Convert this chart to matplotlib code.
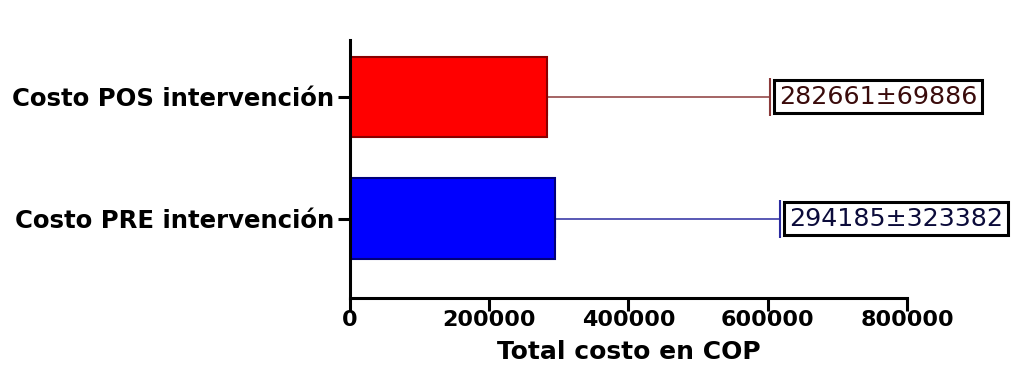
import matplotlib
matplotlib.use("Agg")
import matplotlib.pyplot as plt

plt.rcParams['font.family'] = ['DejaVu Sans']

categorias = ['Costo PRE intervención', 'Costo POS intervención']
medias = [294185, 282661]
# extension of the drawn error whiskers
errores = [323382, 320500]
etiquetas = ['294185±323382', '282661±69886']
colores = ['#0000ff', '#ff0000']
bordes = ['#00007a', '#8a0000']
linea_err = ['#2b2ba0', '#8b3a3a']
cap_err = ['#5a5ad0', '#d84040']
color_txt = ['#0b0b3a', '#3a0b0b']

fig = plt.figure(figsize=(10.14, 3.79), dpi=100)
ax = fig.add_axes([0.345, 0.214, 0.5495, 0.680])

pos = list(range(len(categorias)))
ax.barh(pos, medias, height=0.66, color=colores, edgecolor=bordes, linewidth=1.5, zorder=2)

for i in pos:
    eb = ax.errorbar(medias[i], i, xerr=[[0], [errores[i]]], fmt='none',
                     ecolor=linea_err[i], elinewidth=1.1, capsize=14, capthick=1.5, zorder=1)
    for c in eb[1]:
        c.set_color(cap_err[i])
    ax.annotate(etiquetas[i], xy=(medias[i] + errores[i], i), xytext=(6.5, 0),
                textcoords='offset points', ha='left', va='center', fontsize=18.2,
                color=color_txt[i], annotation_clip=False,
                bbox=dict(boxstyle='square,pad=0.18', fc='white', ec='black', lw=2.2))

ax.set_xlim(0, 800000)
ax.set_ylim(-0.65, 1.465)
ax.set_xticks([0, 200000, 400000, 600000, 800000])
ax.set_xticklabels(['0', '200000', '400000', '600000', '800000'], fontsize=16, fontweight='bold')
ax.set_yticks(pos)
ax.set_yticklabels(categorias, fontsize=17.6, fontweight='bold')
ax.set_xlabel('Total costo en COP', fontsize=18, fontweight='bold', labelpad=7)

for s in ['top', 'right']:
    ax.spines[s].set_visible(False)
for s in ['left', 'bottom']:
    ax.spines[s].set_linewidth(2.2)
ax.tick_params(axis='y', width=2.2, length=9, pad=2)
ax.tick_params(axis='x', width=2.2, length=9, pad=0)

fig.savefig('out.png', dpi=100)
